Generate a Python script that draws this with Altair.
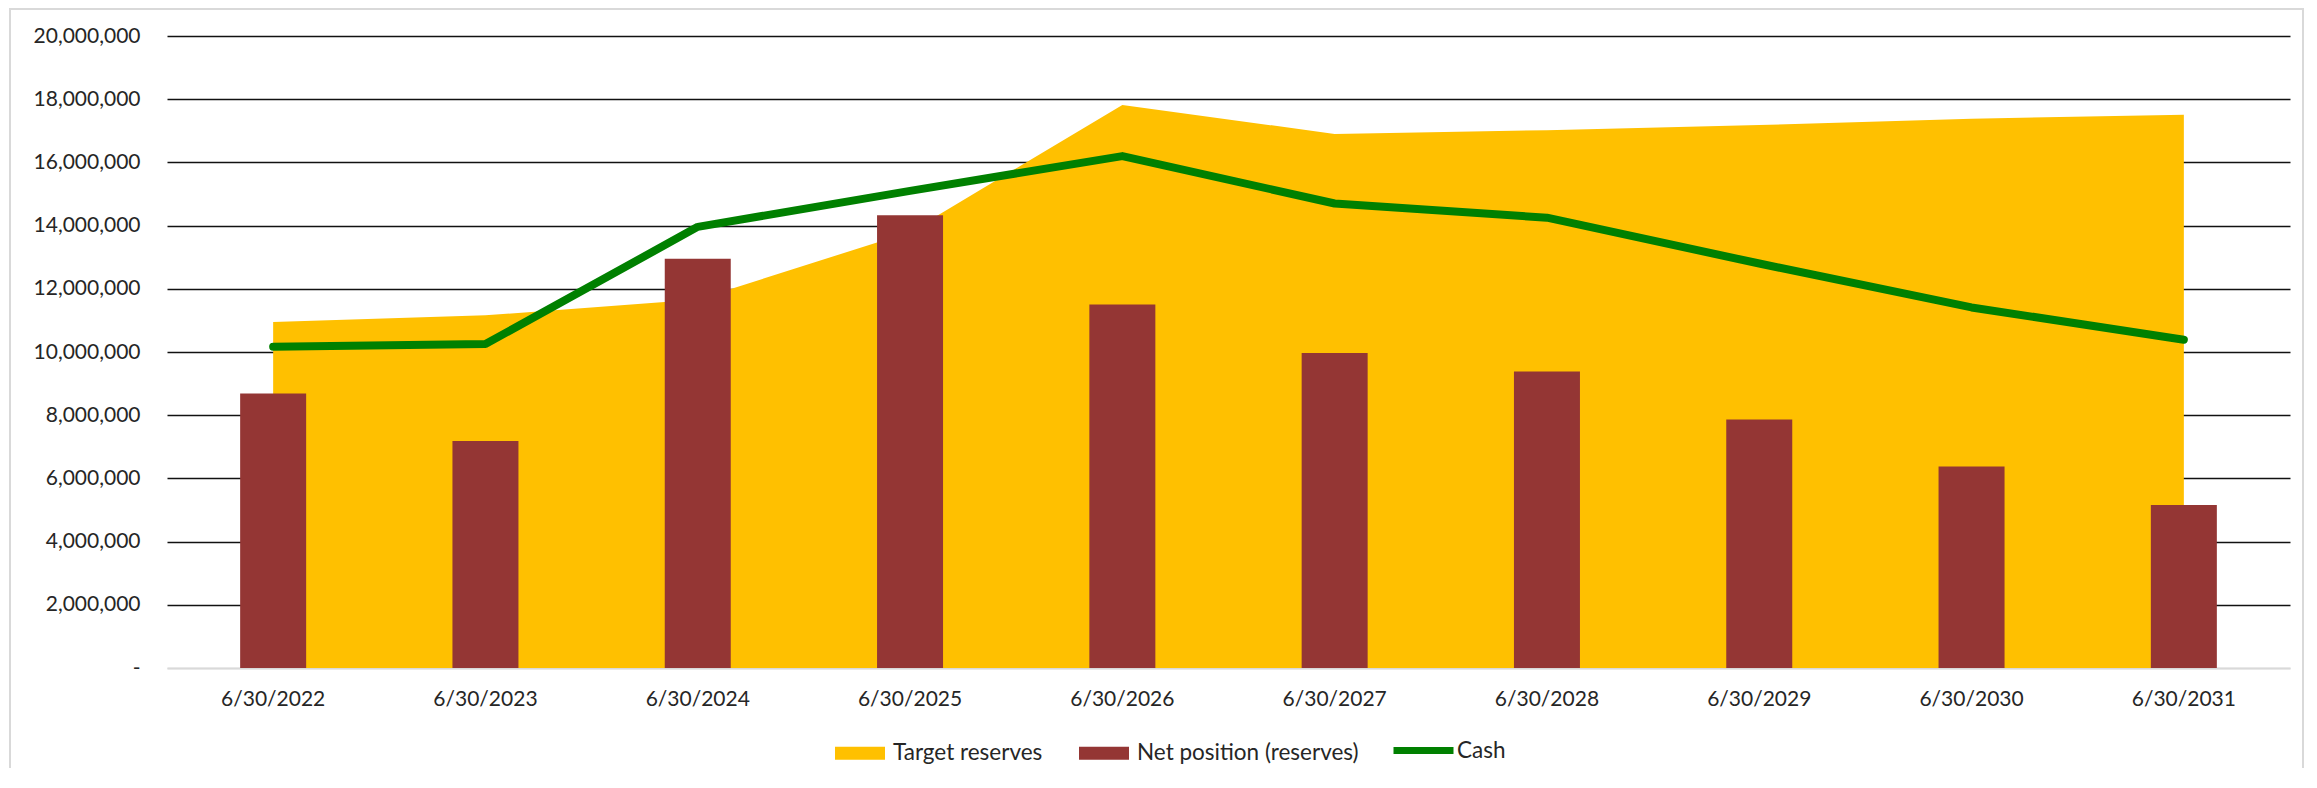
import altair as alt
import pandas as pd

dates = ['6/30/2022', '6/30/2023', '6/30/2024', '6/30/2025', '6/30/2026',
         '6/30/2027', '6/30/2028', '6/30/2029', '6/30/2030', '6/30/2031']
target_reserves = [10950000, 11160000, 11660000, 13800000, 17820000,
                   16900000, 17020000, 17180000, 17380000, 17510000]
net_position = [8690000, 7180000, 12950000, 14330000, 11500000,
                9970000, 9380000, 7860000, 6380000, 5160000]
cash = [10170000, 10250000, 13960000, 15100000, 16200000,
        14700000, 14250000, 12800000, 11410000, 10390000]

fill_names = ['Target reserves', 'Net position (reserves)']
fill_colors = ['#FFC000', '#943634']
line_names = ['Cash']
line_colors = ['#008000']
y_ticks = [0, 2000000, 4000000, 6000000, 8000000, 10000000,
           12000000, 14000000, 16000000, 18000000, 20000000]

rows = []
for name, vals in zip(fill_names + line_names, [target_reserves, net_position, cash]):
    for d, v in zip(dates, vals):
        rows.append({'date': d, 'series': name, 'value': v})
df = pd.DataFrame(rows)

FONT = 'Lato'
TXT = '#262626'

x_enc = alt.X('date:N', sort=dates, title=None,
              scale=alt.Scale(paddingInner=0, paddingOuter=0),
              axis=alt.Axis(labelAngle=0, ticks=False, domain=True, domainColor='#d9d9d9',
                            domainWidth=2, labelFont=FONT, labelFontSize=21,
                            labelColor=TXT, labelPadding=20, grid=False))
y_enc = alt.Y('value:Q', title=None,
              scale=alt.Scale(domain=[0, 20000000], nice=False),
              axis=alt.Axis(values=y_ticks, ticks=False, domain=False,
                            labelExpr="datum.value == 0 ? '-\u00a0\u00a0' : format(datum.value, ',')",
                            labelFont=FONT, labelFontSize=21, labelColor=TXT,
                            labelPadding=27, grid=True,
                            gridColor={'expr': "datum.value == 0 ? '#d9d9d9' : '#111111'"},
                            gridWidth=1.7))

fill_enc = alt.Fill(
    'series:N',
    scale=alt.Scale(domain=fill_names, range=fill_colors),
    legend=alt.Legend(
        orient='none', legendX=668, legendY=692, direction='horizontal',
        title=None, symbolType='M-1,-0.26H1V0.26H-1Z', symbolSize=2500,
        symbolStrokeWidth=0, symbolOpacity=1, labelLimit=500,
        labelFont=FONT, labelFontSize=22.5, labelColor=TXT, labelOffset=8,
        columnPadding=36))

stroke_enc = alt.Stroke(
    'series:N',
    scale=alt.Scale(domain=line_names, range=line_colors),
    legend=alt.Legend(
        orient='none', legendX=1223, legendY=681, direction='horizontal',
        title=None, symbolType='stroke', symbolSize=3600, symbolStrokeWidth=7,
        symbolOpacity=1, labelLimit=500,
        labelFont=FONT, labelFontSize=22.5, labelColor=TXT, labelOffset=0))

base = alt.Chart(df)

area = base.transform_filter(alt.datum.series == 'Target reserves').mark_area(
    opacity=1, interpolate='linear').encode(x=x_enc, y=y_enc, fill=fill_enc)

bars = base.transform_filter(alt.datum.series == 'Net position (reserves)').mark_bar(
    size=66, opacity=1).encode(x=x_enc, y=y_enc, fill=fill_enc)

line = base.transform_filter(alt.datum.series == 'Cash').mark_line(
    strokeWidth=8, strokeCap='round', strokeJoin='round', opacity=1).encode(
    x=x_enc, y=y_enc, stroke=stroke_enc)

frame = alt.Chart(alt.Data(values=[{'f': 1}])).mark_rect(
    fill='transparent', stroke='#d9d9d9', strokeWidth=2).encode(
    x=alt.value(-157), x2=alt.value(2136), y=alt.value(-27), y2=alt.value(760))

chart = alt.layer(frame, area, bars, line).properties(
    width=2123, height=632,
    autosize=alt.AutoSizeParams(type='none'),
    padding={'left': 159, 'top': 28, 'right': 15, 'bottom': 100},
    background='white'
).configure_view(stroke=None)

chart.save('out.html', embed_options={'renderer': 'svg', 'actions': False})
